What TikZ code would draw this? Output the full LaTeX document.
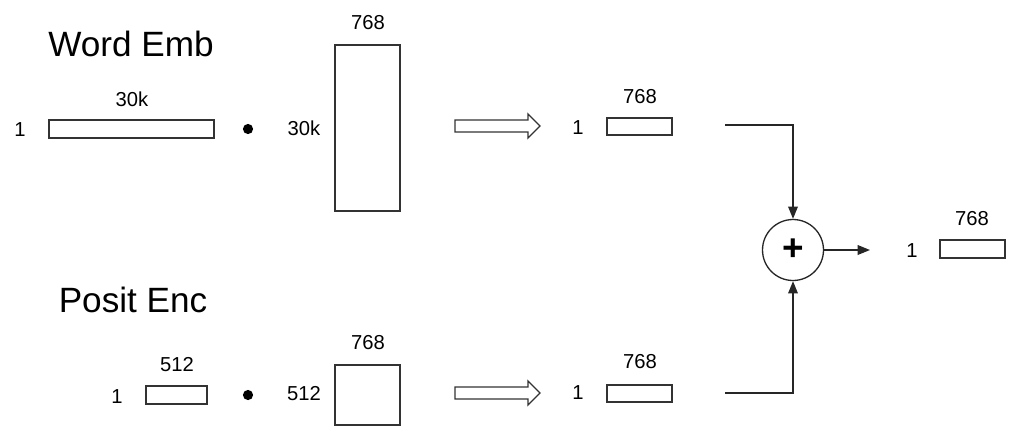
\documentclass[tikz,border=0pt]{standalone}
\usepackage{fontspec}
\setmainfont{Liberation Sans}
\usetikzlibrary{arrows.meta}
\begin{document}
\begin{tikzpicture}[x=0.02cm,y=-0.02cm,line width=0.6pt,
  lbl/.style={font=\fontsize{11.5}{13}\selectfont,inner sep=0pt},
  title/.style={font=\fontsize{20}{23}\selectfont,inner sep=0pt},
  vec/.style={draw=black!80,line width=0.75pt},
  link/.style={draw=black!85,line width=0.75pt,-{Triangle[length=7pt,width=5.5pt]}}]
\useasboundingbox (0,0) rectangle (1024,443);
% word embedding row
\node[title] (wtitle) at (131,44) {Word Emb};
\node[lbl] (w1) at (20,130) {1};
\node[lbl] (wk) at (132,99) {30k};
\draw[vec] (49,120) rectangle (214,138);
\fill (248,129) circle (2.9pt);
\node[lbl] (wk2) at (304,128) {30k};
\draw[vec] (335,45) rectangle (400,211);
\node[lbl] (wd) at (368,23) {768};
\draw[vec] (455,120) -- (528,120) -- (528,114) -- (540,126) -- (528,138) -- (528,132) -- (455,132) -- cycle;
\node[lbl] (wo1) at (578,128) {1};
\draw[vec] (607,118) rectangle (672,135);
\node[lbl] (wod) at (640,97) {768};
% position encoding row
\node[title] (ptitle) at (133,300) {Posit Enc};
\node[lbl] (p1) at (117,397) {1};
\node[lbl] (pk) at (177,365) {512};
\draw[vec] (146,386) rectangle (207,404);
\fill (248,395) circle (2.9pt);
\node[lbl] (pk2) at (304,394) {512};
\draw[vec] (335,365) rectangle (400,425);
\node[lbl] (pd) at (368,343) {768};
\draw[vec] (455,387) -- (528,387) -- (528,381) -- (540,393) -- (528,405) -- (528,399) -- (455,399) -- cycle;
\node[lbl] (po1) at (578,393) {1};
\draw[vec] (607,385) rectangle (672,402);
\node[lbl] (pod) at (640,362) {768};
% sum
\node[circle,draw=black!85,line width=0.75pt,minimum size=1.22cm,inner sep=0pt,font=\fontsize{21}{22}\selectfont\bfseries] (sum) at (793,250) {+};
\coordinate (wout) at (725,125);
\coordinate (pout) at (725,393);
\coordinate (sout) at (870,250);
\draw[link] (wout) -| (sum.north);
\draw[link] (pout) -| (sum.south);
\draw[link] (sum) -- (sout);
\node[lbl] (s1) at (912,251) {1};
\draw[vec] (940,240) rectangle (1005,258);
\node[lbl] (sd) at (972,219) {768};
\end{tikzpicture}
\end{document}
